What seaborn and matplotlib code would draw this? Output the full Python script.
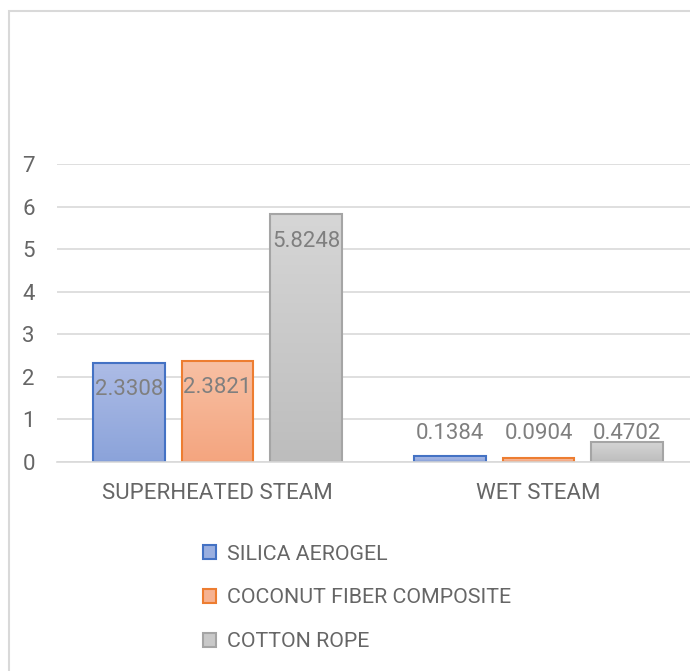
import pandas as pd
import numpy as np
import matplotlib.pyplot as plt
import seaborn as sns
from matplotlib.patches import Rectangle
from matplotlib.colors import LinearSegmentedColormap

sns.set_style("white")
plt.rcParams["font.family"] = ["Roboto", "DejaVu Sans"]

conditions = ["SUPERHEATED STEAM", "WET STEAM"]
materials = ["SILICA AEROGEL", "COCONUT FIBER COMPOSITE", "COTTON ROPE"]
silica = [2.3308, 0.1384]
coconut = [2.3821, 0.0904]
cotton = [5.8248, 0.4702]

df = pd.DataFrame({
    "cond": conditions * 3,
    "material": [m for m in materials for _ in conditions],
    "value": silica + coconut + cotton,
})

edge_colors = ["#4472c4", "#ed7d31", "#a5a5a5"]
fill_top = ["#adbce6", "#f8c0a4", "#d6d6d6"]
fill_bot = ["#8ba3da", "#f4a57f", "#bdbdbd"]
mid = ["#9aafe0", "#f6b291", "#c9c9c9"]

fig = plt.figure(figsize=(6.9, 6.71), dpi=100)
ax = fig.add_axes([57 / 690, 1 - 462 / 671, 642 / 690, (462 - 164) / 671])

sns.barplot(data=df, x="cond", y="value", hue="material", hue_order=materials,
            palette=mid, width=0.827, gap=0.19, ax=ax, legend=True)

# gradient fill + edge, plus value labels
for i, cont in enumerate(ax.containers):
    cmap = LinearSegmentedColormap.from_list("g", [fill_bot[i], fill_top[i]])
    for bar in cont:
        bar.set_edgecolor(edge_colors[i])
        bar.set_linewidth(1.5)
        x0, y0 = bar.get_x(), bar.get_y()
        w, h = bar.get_width(), bar.get_height()
        grad = np.linspace(0, 1, 100).reshape(-1, 1)
        im = ax.imshow(grad, cmap=cmap, origin="lower", aspect="auto",
                       extent=[x0, x0 + w, y0, y0 + h], zorder=bar.get_zorder())
        im.set_clip_path(bar)
        bar.set_facecolor("none")
        bar.set_zorder(bar.get_zorder() + 0.1)
        ly = max(h - 0.634, 0.658)
        ax.text(x0 + w / 2, ly, f"{h:.4f}", ha="center", va="center",
                fontsize=16, color="#7f7f7f", zorder=5)

ax.set_xlim(-0.5, 1.5)
ax.set_ylim(0, 7)
ax.set_yticks(range(0, 8))
ax.yaxis.grid(True, color="#d9d9d9", linewidth=1.2)
ax.set_axisbelow(True)
for s in ["top", "right", "left"]:
    ax.spines[s].set_visible(False)
ax.spines["bottom"].set_color("#d9d9d9")
ax.spines["bottom"].set_linewidth(1.2)
ax.tick_params(axis="both", length=0, labelsize=16, colors="#666666")
ax.tick_params(axis="y", pad=16)
ax.tick_params(axis="x", pad=15)
ax.set_xlabel("")
ax.set_ylabel("")

handles, labels = ax.get_legend_handles_labels()
ax.get_legend().remove()
for i, hd in enumerate(handles):
    hd.set_facecolor(mid[i])
    hd.set_edgecolor(edge_colors[i])
    hd.set_linewidth(1.5)
leg = fig.legend(handles, labels, loc="upper left", bbox_to_anchor=(194 / 690, 1 - 536 / 671),
                 frameon=False, fontsize=15.4, handlelength=0.62, handleheight=0.62,
                 handletextpad=0.5, labelspacing=1.16, borderaxespad=0)
for t in leg.get_texts():
    t.set_color("#666666")

fig.patches.append(Rectangle((9 / 690, -0.1), 1.2, 1 - 11 / 671 + 0.1, transform=fig.transFigure,
                             fill=False, edgecolor="#d9d9d9", linewidth=1.5, zorder=0))

fig.savefig("out.png", dpi=100)
